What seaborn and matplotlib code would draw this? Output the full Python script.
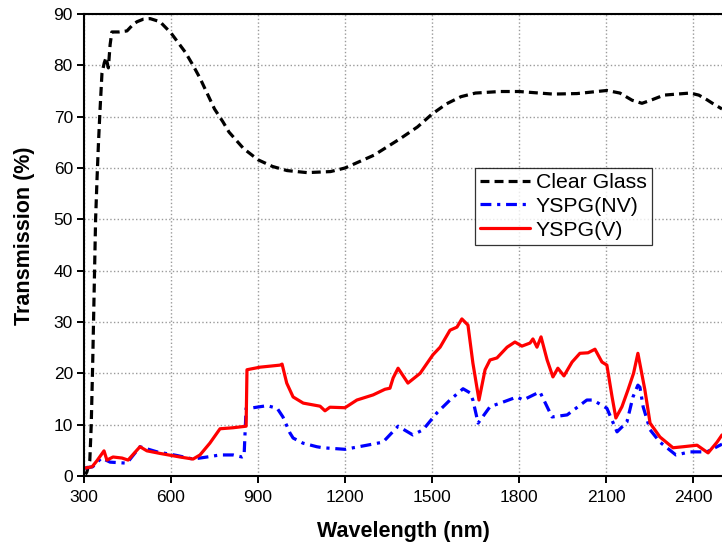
import numpy as np
import pandas as pd
import matplotlib
matplotlib.use("Agg")
import matplotlib.pyplot as plt
import seaborn as sns

# ---------------- data ----------------
clear_wl = [305, 310, 320, 325, 330, 335, 340, 345, 350, 355, 362, 370, 376, 384, 390, 396,
            420, 448, 470, 483, 505, 528, 562, 600, 650, 676, 700, 750, 779, 800, 850, 900,
            950, 1000, 1069, 1150, 1200, 1300, 1390, 1450, 1500, 1550, 1600, 1650, 1734, 1800,
            1917, 2000, 2103, 2148, 2190, 2224, 2259, 2300, 2345, 2390, 2420, 2448, 2470, 2500]
clear_t = [0.3, 0.8, 3, 10, 22, 36, 50, 58, 65, 71, 78.5, 80.5, 81.5, 79.5, 84, 86.5,
           86.5, 86.7, 88, 88.5, 89, 89.1, 88.5, 86.3, 82.5, 80, 77.5, 71.5, 69, 67, 63.8, 61.6,
           60.3, 59.5, 59.1, 59.3, 60, 62.5, 65.7, 68, 70.5, 72.5, 73.9, 74.6, 74.9, 74.9,
           74.4, 74.5, 75.1, 74.6, 73.2, 72.6, 73.3, 74.2, 74.4, 74.6, 74.2, 73.3, 72.5, 71.5]

nv_wl = [300, 330, 360, 390, 448, 493, 552, 620, 676, 724, 769, 814, 845, 852, 859, 872,
         931, 966, 986, 1010, 1021, 1055, 1103, 1124, 1200, 1276, 1331, 1383, 1434, 1469,
         1517, 1562, 1607, 1631, 1641, 1659, 1700, 1745, 1793, 1814, 1872, 1914, 1966, 2034,
         2055, 2103, 2138, 2172, 2193, 2210, 2217, 2228, 2252, 2286, 2341, 2390, 2448, 2493, 2500]
nv_t = [1.5, 1.8, 3.5, 2.7, 2.5, 5.7, 4.7, 4.0, 3.3, 3.7, 4.1, 4.1, 3.7, 3.9, 13.2, 13.2,
        13.7, 13.2, 11.5, 8.4, 7.4, 6.4, 5.7, 5.5, 5.2, 6.0, 6.6, 9.7, 8.0, 9.0,
        12.3, 14.8, 17.0, 16.2, 14.8, 10.3, 13.5, 14.4, 15.4, 14.8, 16.4, 11.5, 11.9, 14.8,
        14.8, 13.2, 8.6, 10.5, 15.4, 17.7, 17.3, 13.5, 9.0, 6.6, 4.1, 4.7, 4.7, 6.0, 6.2]

v_wl = [300, 328, 345, 369, 379, 400, 431, 452, 493, 517, 562, 631, 676, 700, 734, 769,
        814, 859, 862, 907, 976, 983, 999, 1021, 1056, 1114, 1131, 1148, 1200, 1241, 1297,
        1338, 1355, 1366, 1383, 1417, 1459, 1503, 1528, 1562, 1586, 1603, 1624, 1641, 1662,
        1683, 1700, 1724, 1759, 1786, 1810, 1838, 1848, 1862, 1876, 1897, 1917, 1934, 1955,
        1983, 2010, 2038, 2062, 2086, 2103, 2121, 2134, 2155, 2176, 2195, 2210, 2234, 2252,
        2286, 2331, 2366, 2414, 2452, 2483, 2500]
v_t = [1.5, 1.8, 3.0, 4.9, 3.1, 3.7, 3.5, 3.1, 5.7, 4.9, 4.4, 3.7, 3.3, 4.1, 6.4, 9.2,
       9.4, 9.7, 20.7, 21.2, 21.6, 21.8, 18.1, 15.4, 14.2, 13.6, 12.7, 13.4, 13.3, 14.8, 15.8,
       16.9, 17.1, 19.1, 21.0, 18.1, 20.0, 23.6, 25.1, 28.4, 29.0, 30.6, 29.4, 22.0, 14.8,
       20.7, 22.6, 23.0, 25.1, 26.1, 25.3, 25.9, 26.7, 25.1, 27.1, 22.6, 19.3, 21.0, 19.5,
       22.2, 23.9, 24.0, 24.7, 22.2, 21.6, 15.4, 11.3, 13.5, 16.8, 20.0, 23.9, 16.8, 10.3,
       7.6, 5.5, 5.7, 6.0, 4.5, 6.6, 8.0]

labels = ["Clear Glass", "YSPG(NV)", "YSPG(V)"]
x_ticks = [300, 600, 900, 1200, 1500, 1800, 2100, 2400]
y_ticks = [0, 10, 20, 30, 40, 50, 60, 70, 80, 90]

df_clear = pd.DataFrame({"wl": clear_wl, "t": clear_t})
df_nv = pd.DataFrame({"wl": nv_wl, "t": nv_t})
df_v = pd.DataFrame({"wl": v_wl, "t": v_t})

# ---------------- plot ----------------
sns.set_theme(style="ticks")
plt.rcParams["font.family"] = ["Liberation Sans", "DejaVu Sans"]
plt.rcParams["text.color"] = "black"
plt.rcParams["axes.labelcolor"] = "black"

W, H = 722, 545
fig = plt.figure(figsize=(W / 100, H / 100), dpi=100)
ax = fig.add_axes([84 / W, (H - 476) / H, (W - 84) / W, (476 - 14) / H])

lw = 2.3
sns.lineplot(data=df_clear, x="wl", y="t", ax=ax, color="black", lw=lw,
             linestyle=(0, (2.8, 1.6)), label=labels[0], sort=False, estimator=None)
sns.lineplot(data=df_nv, x="wl", y="t", ax=ax, color="#0000ff", lw=lw,
             linestyle=(0, (3.4, 1.8, 1.0, 1.8)), label=labels[1], sort=False, estimator=None)
sns.lineplot(data=df_v, x="wl", y="t", ax=ax, color="#ff0000", lw=lw,
             linestyle="-", label=labels[2], sort=False, estimator=None)

ax.set_xlim(300, 2500)
ax.set_ylim(0, 90)
ax.set_xticks(x_ticks)
ax.set_yticks(y_ticks)
ax.grid(True, linestyle=":", color="#9a9a9a", linewidth=1.0)
ax.set_axisbelow(True)

ax.set_xlabel("Wavelength (nm)", fontsize=15.5, fontweight="bold", color="black")
ax.set_ylabel("Transmission (%)", fontsize=15.5, fontweight="bold", color="black")
ax.xaxis.set_label_coords(0.5, -0.098)
ax.yaxis.set_label_coords(-0.077, 0.52)
ax.tick_params(axis="both", labelsize=12.5, direction="out", length=5, width=1.4,
               colors="black")
ax.tick_params(axis="x", pad=5)
ax.tick_params(axis="y", pad=3)
ax.tick_params(top=False, right=False)

for side in ["left", "bottom", "top"]:
    ax.spines[side].set_linewidth(1.5)
    ax.spines[side].set_color("black")
ax.spines["right"].set_visible(False)

leg = ax.legend(loc="upper left", bbox_to_anchor=(0.613, 0.667), borderaxespad=0,
                fontsize=15.3, frameon=True, fancybox=False, edgecolor="black",
                handlelength=2.35, handletextpad=0.25, labelspacing=0.22,
                borderpad=0.25)
leg.get_frame().set_linewidth(0.9)
for t in leg.get_texts():
    t.set_color("black")
for line in leg.get_lines():
    line.set_linewidth(lw)

fig.savefig("out.png", dpi=100, facecolor="white")
